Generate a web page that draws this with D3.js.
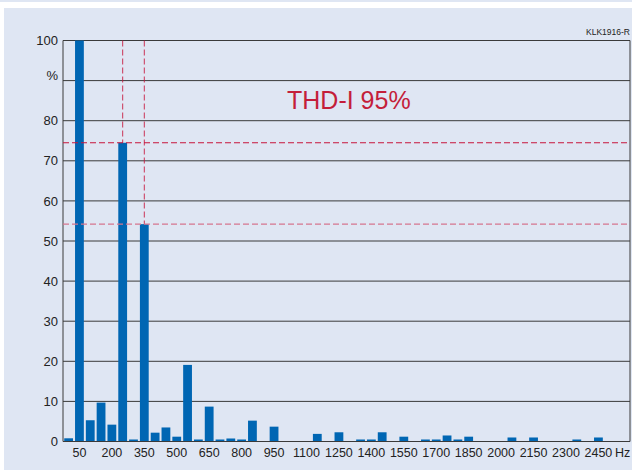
<!DOCTYPE html>
<html>
<head>
<meta charset="utf-8">
<script src="https://cdn.jsdelivr.net/npm/d3@7"></script>
<style>
  html, body { margin: 0; padding: 0; background: #ffffff; }
  svg { display: block; }
  text { font-family: "Liberation Sans", Arial, Helvetica, sans-serif; }
</style>
</head>
<body>
<div id="chart"></div>
<script>
// Harmonic frequencies (Hz) and amplitude in % of fundamental
const frequencies = [0, 50, 100, 150, 200, 250, 300, 350, 400, 450, 500, 550, 600, 650, 700, 750, 800, 850, 900, 950,
  1000, 1050, 1100, 1150, 1200, 1250, 1300, 1350, 1400, 1450, 1500, 1550, 1600, 1650, 1700, 1750, 1800, 1850, 1900, 1950,
  2000, 2050, 2100, 2150, 2200, 2250, 2300, 2350, 2400, 2450];
const amplitudes = [0.8, 100, 5.3, 9.7, 4.2, 74.5, 0.5, 54.2, 2.2, 3.5, 1.2, 19.1, 0.5, 8.7, 0.5, 0.75, 0.5, 5.2, 0, 3.7,
  0, 0, 0, 1.9, 0, 2.3, 0, 0.5, 0.5, 2.3, 0, 1.2, 0, 0.5, 0.5, 1.5, 0.5, 1.2, 0, 0,
  0, 1.0, 0, 1.0, 0, 0, 0, 0.5, 0, 1.0];
const xTickValues = [50, 200, 350, 500, 650, 800, 950, 1100, 1250, 1400, 1550, 1700, 1850, 2000, 2150, 2300, 2450];
const yTickValues = [0, 10, 20, 30, 40, 50, 60, 70, 80, 90, 100];
const yTickLabels = ["0", "10", "20", "30", "40", "50", "60", "70", "80", "%", "100"];
const markedHarmonics = [250, 350];
const markedValues = [74.5, 54.2];
const titleText = "THD-I 95%";
const codeText = "KLK1916-R";
const unitText = "Hz";

const W = 632, H = 470;
const plot = { left: 63, right: 630, top: 40.5, bottom: 441.5 };

const svg = d3.select("#chart").append("svg").attr("width", W).attr("height", H);

// background
svg.append("rect").attr("x", 0).attr("y", 0).attr("width", W).attr("height", H).attr("fill", "#ffffff");
svg.append("rect").attr("x", 0).attr("y", 0).attr("width", W).attr("height", 2).attr("fill", "#dfe6f3");
svg.append("rect").attr("x", 4).attr("y", 8).attr("width", W - 4).attr("height", H - 8).attr("fill", "#dfe6f3");

const x = d3.scaleLinear().domain([-26, 2596]).range([plot.left, plot.right]);
const y = d3.scaleLinear().domain([0, 100]).range([plot.bottom, plot.top]);
const barW = 8.8;

// gridlines
svg.append("g").selectAll("line").data(yTickValues).join("line")
  .attr("x1", plot.left).attr("x2", plot.right)
  .attr("y1", d => y(d)).attr("y2", d => y(d))
  .attr("stroke", "#3a3a3a").attr("stroke-width", 1);

// frame sides
svg.append("line").attr("x1", plot.left).attr("x2", plot.left).attr("y1", plot.top).attr("y2", plot.bottom)
  .attr("stroke", "#3a3a3a").attr("stroke-width", 1);
svg.append("line").attr("x1", plot.right).attr("x2", plot.right).attr("y1", plot.top).attr("y2", plot.bottom)
  .attr("stroke", "#3a3a3a").attr("stroke-width", 1);

// bars
const data = frequencies.map((f, i) => ({ f, v: amplitudes[i] }));
svg.append("g").selectAll("rect").data(data.filter(d => d.v > 0)).join("rect")
  .attr("x", d => x(d.f) - barW / 2)
  .attr("width", barW)
  .attr("y", d => y(d.v))
  .attr("height", d => y(0) - y(d.v))
  .attr("fill", "#0066b3");

// bottom axis line drawn over bars
svg.append("line").attr("x1", plot.left).attr("x2", plot.right).attr("y1", y(0)).attr("y2", y(0))
  .attr("stroke", "#3a3a3a").attr("stroke-width", 1.2);

// red dashed markers
const red = "#c8163c";
markedHarmonics.forEach((f, i) => {
  const v = markedValues[i];
  svg.append("line")
    .attr("x1", x(f)).attr("x2", x(f)).attr("y1", plot.top).attr("y2", y(v))
    .attr("stroke", red).attr("stroke-width", 1).attr("stroke-dasharray", "6,3")
    .attr("opacity", 0.85);
  svg.append("line")
    .attr("x1", plot.left).attr("x2", plot.right).attr("y1", y(v)).attr("y2", y(v))
    .attr("stroke", i === 0 ? red : "#d6758f").attr("stroke-width", 1.2).attr("stroke-dasharray", "6,3");
});

// y tick labels
svg.append("g").selectAll("text").data(yTickValues).join("text")
  .attr("x", 58).attr("y", d => y(d) - (d === 90 ? 5 : 0))
  .attr("dy", "0.36em")
  .attr("text-anchor", "end")
  .attr("font-size", 13)
  .attr("fill", "#222")
  .text((d, i) => yTickLabels[i]);

// x tick labels
svg.append("g").selectAll("text").data(xTickValues).join("text")
  .attr("x", d => x(d)).attr("y", 457)
  .attr("text-anchor", "middle")
  .attr("font-size", 12.5)
  .attr("fill", "#222")
  .text(d => d);
svg.append("text").attr("x", 615).attr("y", 457).attr("font-size", 12.5).attr("fill", "#222").text(unitText);

// title
svg.append("text").attr("x", 287).attr("y", 108.5)
  .attr("font-size", 25).attr("fill", "#c41e3a").text(titleText);

// code
svg.append("text").attr("x", 630).attr("y", 35).attr("text-anchor", "end")
  .attr("font-size", 8.5).attr("fill", "#222").text(codeText);
</script>
</body>
</html>
